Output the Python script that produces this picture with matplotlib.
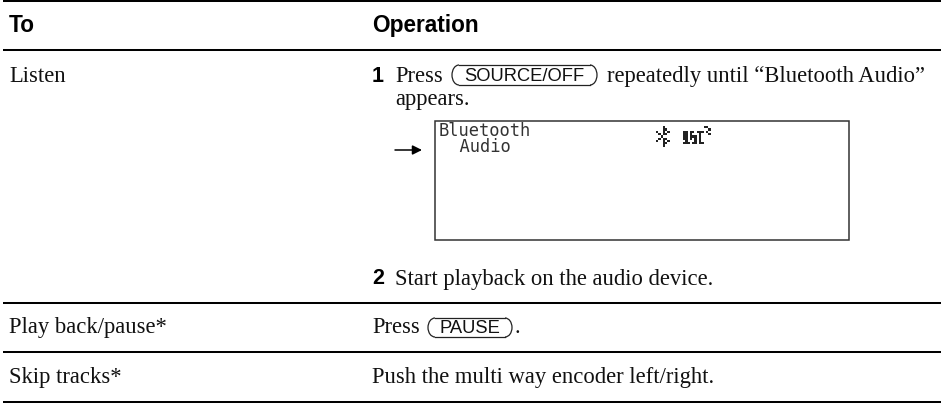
from matplotlib import pyplot as plt
from matplotlib.patches import FancyArrowPatch, Rectangle, Arc
from matplotlib.lines import Line2D

W, H = 941, 404

# table contents
header_labels = ["To", "Operation"]
row_labels = ["Listen", "Play back/pause*", "Skip tracks*"]
step_numbers = ["1", "2"]
line_1 = ["Press", "SOURCE/OFF", "repeatedly until \u201cBluetooth Audio\u201d"]
line_1b = "appears."
step_2 = "Start playback on the audio device."
pause_text = ["Press", "PAUSE", "."]
skip_text = "Push the multi way encoder left/right."
lcd_text = "Bluetooth\n  Audio"

rule_rows = [1.2, 50, 302.7, 351.7, 401.7]

# dot patterns of the two display icons
bt_icon = [
    "...X...",
    "...XX..",
    "X..X.X.",
    ".X.XX..",
    "..X....",
    ".X.XX..",
    "X..X.X.",
    "...XX..",
    "...X...",
]
phone_icon = [
    ".........XX.",
    "...........X",
    "XX.XX.XXX.X.",
    "XX.X...X...X",
    "XX.XXX.X....",
    "XX.X.X.X....",
    ".X...X.X....",
    "XXX.XX.XX...",
]

SERIF = "Liberation Serif"
SANS = "Liberation Sans"

fig = plt.figure(figsize=(W / 100, H / 100), dpi=100)
ax = fig.add_axes([0, 0, 1, 1])
ax.set_xlim(0, W)
ax.set_ylim(H, 0)
ax.axis("off")


def body(x, y, s):
    ax.text(x, y, s, family=SERIF, size=16.25, color="#111111", va="baseline", ha="left")


def key(x0, x1, y0, y1, baseline, s):
    # hardware key: label inside a rounded outline
    ax.text((x0 + x1) / 2, baseline, s, family=SANS, size=13.2, color="#111111", va="baseline", ha="center")
    h = y1 - y0
    cy = (y0 + y1) / 2
    r = 7
    ax.add_patch(Arc((x0 + r, cy), 2 * r, h, theta1=90, theta2=270, lw=0.9, color="#222222"))
    ax.add_patch(Arc((x1 - r, cy), 2 * r, h, theta1=270, theta2=90, lw=0.9, color="#222222"))
    ax.add_line(Line2D([x0 + r, x1 - r], [y0, y0], lw=0.9, color="#222222"))
    ax.add_line(Line2D([x0 + r, x1 - r], [y1, y1], lw=0.9, color="#222222"))


def draw_icon(pattern, x, y, cell):
    for r, row in enumerate(pattern):
        for c, ch in enumerate(row):
            if ch == "X":
                ax.add_patch(Rectangle((x + c * cell, y + r * cell), cell, cell, lw=0, facecolor="#222222"))


for y in rule_rows:
    ax.add_line(Line2D([3, 941], [y, y], lw=1.45, color="black", solid_capstyle="butt"))

# header
ax.text(9, 32, header_labels[0], family=SANS, weight="bold", size=16.25, va="baseline")
ax.text(372, 32, header_labels[1], family=SANS, weight="bold", size=16.25, va="baseline")

# left column
body(9, 82, row_labels[0])
body(9, 333, row_labels[1])
body(9, 383, row_labels[2])

# step 1
ax.text(372, 81.5, step_numbers[0], family=SANS, weight="bold", size=15.5, va="baseline")
body(395, 82, line_1[0])
key(452, 597, 65, 85, 81, line_1[1])
body(607, 82, line_1[2])
body(395, 105, line_1b)

# display
ax.add_patch(Rectangle((435, 121), 414, 119, fill=False, lw=1.1, edgecolor="#333333"))
ax.add_patch(FancyArrowPatch((395, 150), (422, 150), arrowstyle="-|>", mutation_scale=14, lw=1.1,
                             color="black", shrinkA=0, shrinkB=0))
ax.text(439, 152, lcd_text, family="DejaVu Sans Mono", size=12.3, color="#333333",
        va="baseline", ha="left", linespacing=0.84)
draw_icon(bt_icon, 656, 126, 2.3)
draw_icon(phone_icon, 683, 126, 2.3)

# step 2
ax.text(372, 284.5, step_numbers[1], family=SANS, weight="bold", size=15.5, va="baseline")
body(395, 285, step_2)

# other rows
body(372, 333, pause_text[0])
key(428, 512, 318, 337, 333, pause_text[1])
body(515, 333, pause_text[2])
body(372, 383, skip_text)

fig.savefig("out.png", dpi=100)
